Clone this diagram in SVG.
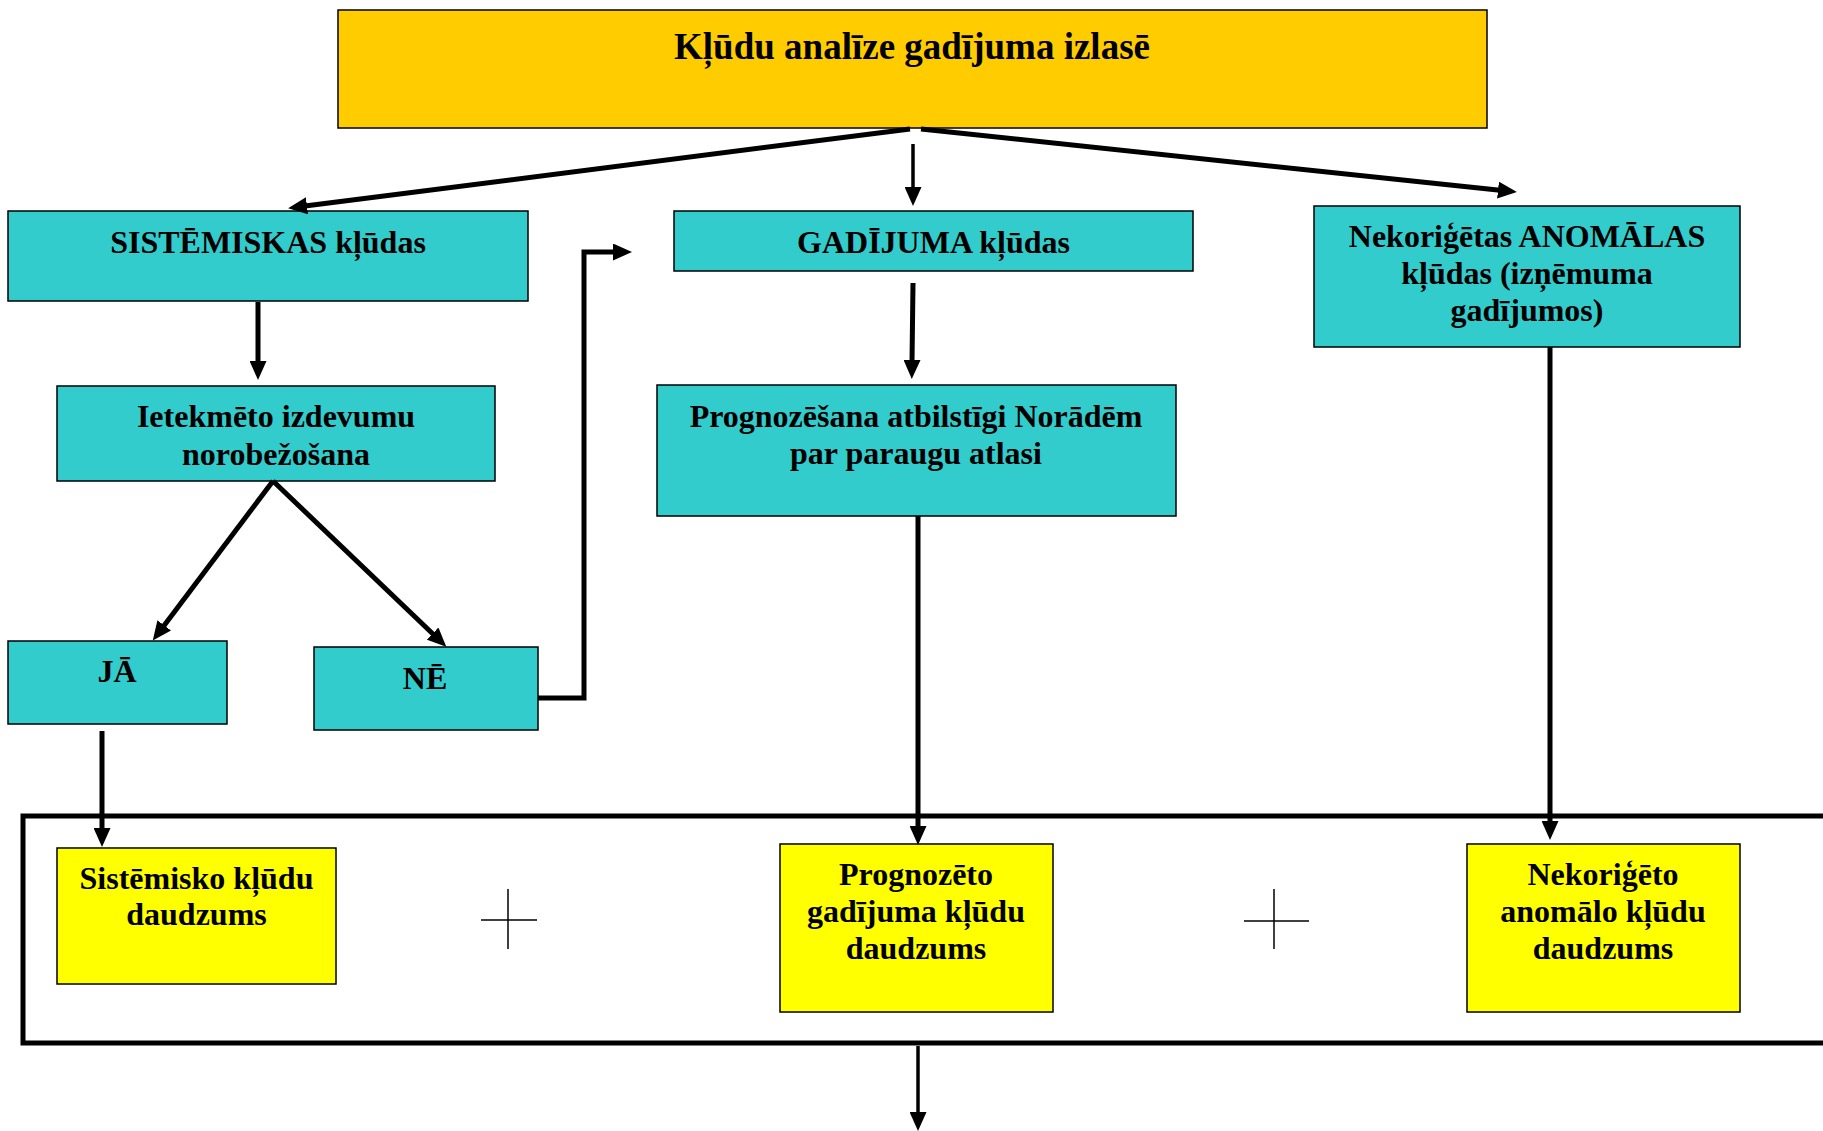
<svg xmlns="http://www.w3.org/2000/svg" width="1823" height="1131" viewBox="0 0 1823 1131">
<defs>
<style>
.box{stroke:#000;stroke-width:1.5}
.orange{fill:#FFCC00}
.cyan{fill:#33CCCC}
.yellow{fill:#FFFF00}
text{font-family:"Liberation Serif","Times New Roman",serif;font-weight:bold;font-size:32px;fill:#000;text-anchor:middle}
.title{font-size:37px}
.conn{fill:none;stroke:#000;stroke-width:5}
.thin{stroke-width:3.5}
.plus{stroke:#000;stroke-width:1.5}
</style>
<marker id="ah" markerUnits="userSpaceOnUse" markerWidth="19" markerHeight="17" refX="2" refY="8.5" orient="auto">
<path d="M0,0 L19,8.5 L0,17 z" fill="#000"/>
</marker>
</defs>
<rect x="0" y="0" width="1823" height="1131" fill="#fff"/>

<g id="frame">
<rect x="23" y="816" width="1820" height="227" fill="none" stroke="#000" stroke-width="5"/>
</g>

<g id="n-title">
<rect class="box orange" x="338" y="10" width="1149" height="118"/>
<text class="title" x="912" y="59">Kļūdu analīze gadījuma izlasē</text>
</g>
<g id="n-sist">
<rect class="box cyan" x="8" y="211" width="520" height="90"/>
<text x="268" y="253">SISTĒMISKAS kļūdas</text>
</g>
<g id="n-gad">
<rect class="box cyan" x="674" y="211" width="519" height="60"/>
<text x="933.5" y="253">GADĪJUMA kļūdas</text>
</g>
<g id="n-nekor">
<rect class="box cyan" x="1314" y="206" width="426" height="141"/>
<text x="1527" y="247">Nekoriģētas ANOMĀLAS</text>
<text x="1527" y="284">kļūdas (izņēmuma</text>
<text x="1527" y="321">gadījumos)</text>
</g>
<g id="n-ietek">
<rect class="box cyan" x="57" y="386" width="438" height="95"/>
<text x="276" y="427">Ietekmēto izdevumu</text>
<text x="276" y="465">norobežošana</text>
</g>
<g id="n-progn">
<rect class="box cyan" x="657" y="385" width="519" height="131"/>
<text x="916" y="427">Prognozēšana atbilstīgi Norādēm</text>
<text x="916" y="464">par paraugu atlasi</text>
</g>
<g id="n-ja">
<rect class="box cyan" x="8" y="641" width="219" height="83"/>
<text x="117" y="682">JĀ</text>
</g>
<g id="n-ne">
<rect class="box cyan" x="314" y="647" width="224" height="83"/>
<text x="425" y="689">NĒ</text>
</g>
<g id="n-sum1">
<rect class="box yellow" x="57" y="848" width="279" height="136"/>
<text x="196.5" y="889">Sistēmisko kļūdu</text>
<text x="196.5" y="925">daudzums</text>
</g>
<g id="n-sum2">
<rect class="box yellow" x="780" y="844" width="273" height="168"/>
<text x="916" y="885">Prognozēto</text>
<text x="916" y="922">gadījuma kļūdu</text>
<text x="916" y="959">daudzums</text>
</g>
<g id="n-sum3">
<rect class="box yellow" x="1467" y="844" width="273" height="168"/>
<text x="1603" y="885">Nekoriģēto</text>
<text x="1603" y="922">anomālo kļūdu</text>
<text x="1603" y="959">daudzums</text>
</g>
<g id="plus-signs">
<line class="plus" x1="508" y1="889" x2="508" y2="949"/>
<line class="plus" x1="481" y1="920" x2="537" y2="920"/>
<line class="plus" x1="1274" y1="889" x2="1274" y2="949"/>
<line class="plus" x1="1244" y1="921" x2="1309" y2="921"/>
</g>

<g id="connectors">
<path class="conn" d="M910,129 L305,206" marker-end="url(#ah)"/>
<path class="conn thin" d="M913,144 L913,189" marker-end="url(#ah)"/>
<path class="conn" d="M921,129 L1500,190.3" marker-end="url(#ah)"/>
<path class="conn" d="M258,302 L258,363" marker-end="url(#ah)"/>
<path class="conn" d="M273,481 L163,627" marker-end="url(#ah)"/>
<path class="conn" d="M273,481 L434,635" marker-end="url(#ah)"/>
<path class="conn" d="M538,698 L584,698 L584,252 L615,252" marker-end="url(#ah)"/>
<path class="conn" d="M913,283 L912,362" marker-end="url(#ah)"/>
<path class="conn" d="M918,516 L918,828" marker-end="url(#ah)"/>
<path class="conn" d="M1550,347 L1550,823" marker-end="url(#ah)"/>
<path class="conn" d="M102,731 L102,830" marker-end="url(#ah)"/>
<path class="conn thin" d="M918,1046 L918,1114" marker-end="url(#ah)"/>
</g>
</svg>
